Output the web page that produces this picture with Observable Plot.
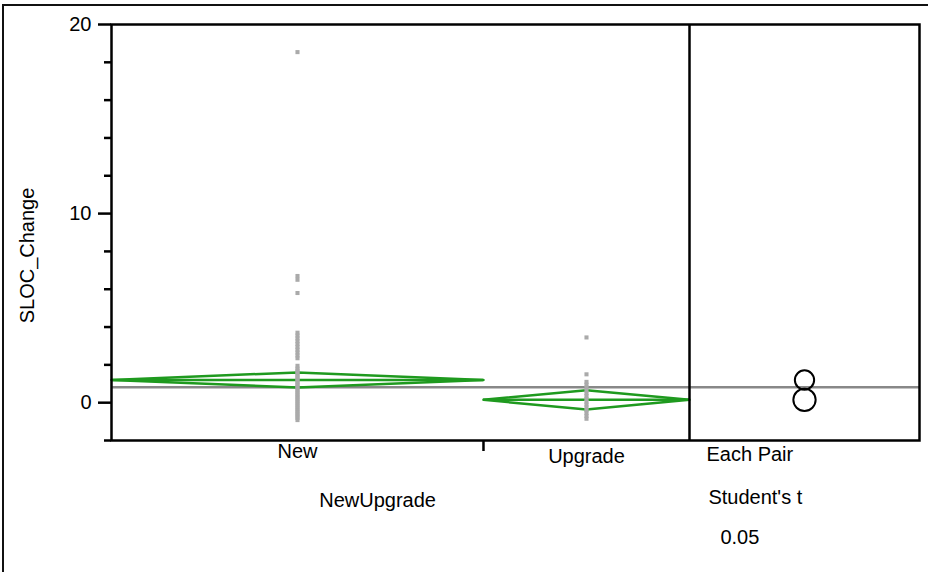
<!DOCTYPE html>
<html>
<head>
<meta charset="utf-8">
<script src="https://cdn.jsdelivr.net/npm/d3@7"></script>
<script src="https://cdn.jsdelivr.net/npm/@observablehq/plot@0.6"></script>
<style>
  html, body { margin: 0; padding: 0; background: #fff; overflow: hidden; }
  #wrap { position: relative; width: 928px; height: 572px; }
  #border { position: absolute; left: 2px; top: 4px; width: 940px; height: 566px;
            border-left: 2px solid #111; border-top: 2px solid #111; border-bottom: 1px solid #ddd; }
  #chart { position: absolute; left: 0; top: 0; }
</style>
</head>
<body>
<div id="wrap"><div id="border"></div><div id="chart"></div></div>
<script>
// ---- data ----
const groups = ["New", "Upgrade"];
const groupN = [65, 36];                 // relative group widths (sample sizes)
const newValues = [18.54, 6.7, 6.5, 5.8, 3.7, 3.55, 3.4, 3.25, 3.1, 2.95, 2.8, 2.65, 2.5, 2.35,
  1.95, 1.8, 1.7, 1.6, 1.5, 1.4, 1.3, 1.2, 1.1, 1.0, 0.9, 0.8, 0.7, 0.6, 0.5, 0.4, 0.3, 0.2,
  0.1, 0.0, -0.1, -0.2, -0.3, -0.4, -0.5, -0.6, -0.7, -0.8, -0.92];
const upgradeValues = [3.45, 1.5, 1.1, 0.95, 0.8, 0.65, 0.5, 0.35, 0.2, 0.05, -0.1, -0.25,
  -0.4, -0.55, -0.7, -0.85];
const groupMeans = [1.20, 0.15];
const ciHalf = [0.40, 0.51];
const circleRadius = [0.51, 0.59];
const grandMean = 0.82;
const yMajorTicks = [0, 10, 20];
const yMinorTicks = [-2, 2, 4, 6, 8, 12, 14, 16, 18];
const yLabel = "SLOC_Change";
const xLabel = "NewUpgrade";
const testLabels = ["Each Pair", "Student's t", "0.05"];

// ---- derived layout ----
const total = d3.sum(groupN);
const starts = groupN.map((n, i) => d3.sum(groupN.slice(0, i)));
const centers = groupN.map((n, i) => starts[i] + n / 2);
const xMax = total * 808 / 578;           // right comparison panel
const panelCenter = (total + xMax) / 2;
const pxPerUnit = 416 / 22;

const points = [
  ...newValues.map(v => ({g: 0, value: v})),
  ...upgradeValues.map(v => ({g: 1, value: v}))
];
const diamonds = groups.flatMap((g, i) => {
  const x0 = starts[i], x1 = starts[i] + groupN[i], xc = centers[i], m = groupMeans[i], h = ciHalf[i];
  return [
    {g, x: x0, y: m}, {g, x: xc, y: m + h}, {g, x: x1, y: m}, {g, x: xc, y: m - h}, {g, x: x0, y: m}
  ];
});
const meanLines = groups.map((g, i) => ({g, x1: starts[i], x2: starts[i] + groupN[i], y: groupMeans[i]}));
const circles = groups.map((g, i) => ({g, y: groupMeans[i], r: circleRadius[i]}));

const green = "#1f9a1f";
const font = "Liberation Sans, Arial, Helvetica, sans-serif";
const testX = [103.97, 104.3, 106.4];
const testDy = [14, 57, 97];
const groupDy = [11, 16];

const plot = Plot.plot({
  width: 928,
  height: 572,
  marginLeft: 111,
  marginRight: 9,
  marginTop: 24,
  marginBottom: 132,
  style: {fontFamily: font, fontSize: "20px", background: "transparent", overflow: "visible"},
  x: {domain: [0, xMax], axis: null},
  y: {domain: [-2, 20], axis: null, label: null},
  r: {type: "linear", domain: [0, 1], range: [0, pxPerUnit]},
  marks: [
    Plot.ruleY([grandMean], {stroke: "#888", strokeWidth: 2.5}),
    Plot.line(diamonds, {x: "x", y: "y", z: "g", stroke: green, strokeWidth: 2.5}),
    Plot.ruleY(meanLines, {x1: "x1", x2: "x2", y: "y", stroke: green, strokeWidth: 2.5}),
    Plot.dot(points, {x: d => centers[d.g], y: "value", symbol: "square", r: 2.3, fill: "#aaa"}),
    Plot.dot(circles, {x: () => panelCenter, y: "y", r: "r", stroke: "black", strokeWidth: 2, fill: "none"}),
    Plot.frame({stroke: "black", strokeWidth: 2.5}),
    Plot.ruleX([total], {stroke: "black", strokeWidth: 2.5}),
    Plot.axisY(yMajorTicks, {tickSize: 13, tickPadding: 7, fontSize: 20, strokeWidth: 2.5, label: null}),
    Plot.axisY(yMinorTicks, {tickSize: 7, tickFormat: () => "", strokeWidth: 2.5, label: null}),
    Plot.axisX([starts[1]], {tickSize: 11, tickFormat: () => "", strokeWidth: 2.5, label: null}),
    ...groups.map((g, i) => Plot.text([g], {x: centers[i], frameAnchor: "bottom", dy: groupDy[i], lineAnchor: "middle", fontSize: 20})),
    Plot.text([xLabel], {x: 46.5, frameAnchor: "bottom", dy: 60, lineAnchor: "middle", fontSize: 20}),
    Plot.text([yLabel], {frameAnchor: "left", dx: -84, dy: 23, rotate: -90, textAnchor: "middle", lineAnchor: "middle", fontSize: 20}),
    ...testLabels.map((t, i) => Plot.text([t], {
      x: testX[i], frameAnchor: "bottom", dy: testDy[i],
      textAnchor: "start", lineAnchor: "middle", fontSize: 20
    }))
  ]
});
document.getElementById("chart").appendChild(plot);
</script>
</body>
</html>
